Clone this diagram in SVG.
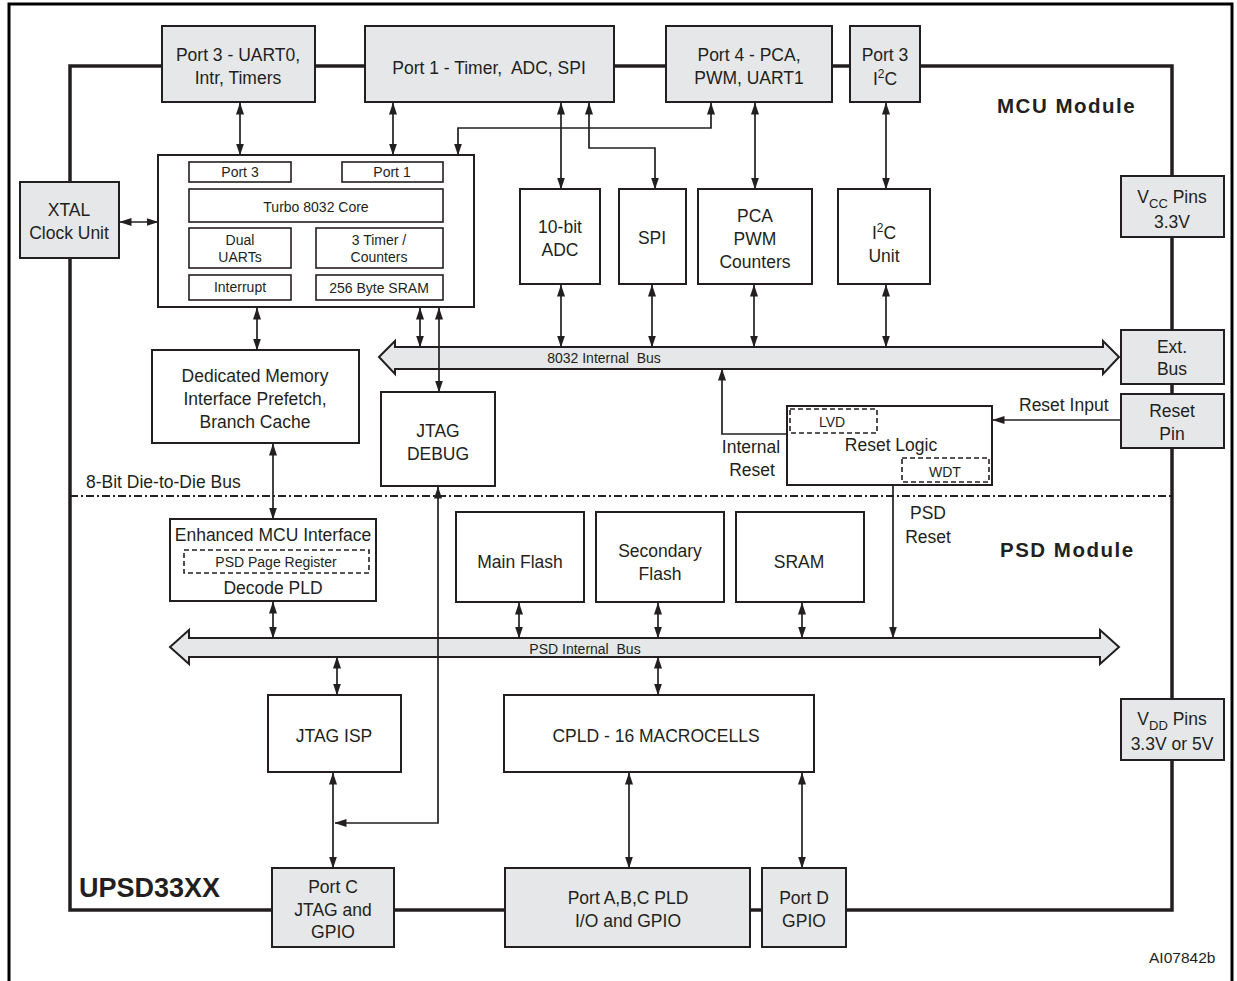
<svg xmlns="http://www.w3.org/2000/svg" width="1237" height="981" viewBox="0 0 1237 981">
<style>
text{font-family:"Liberation Sans",Arial,sans-serif;fill:#231f20}
.t{font-size:17.5px;text-anchor:middle}
.s{font-size:14px;text-anchor:middle}
.box{fill:#fff;stroke:#231f20;stroke-width:2}
.pin{fill:#e6e7e8;stroke:#231f20;stroke-width:2}
.sub{fill:#fff;stroke:#231f20;stroke-width:1.6}
.dash{fill:none;stroke:#231f20;stroke-width:1.6;stroke-dasharray:5 3}
.bus{fill:#e6e7e8;stroke:#231f20;stroke-width:2}
.c{fill:none;stroke:#231f20;stroke-width:1.7}
.d{marker-start:url(#ah);marker-end:url(#ah)}
.e{marker-end:url(#ah)}
.m{font-size:20.5px;font-weight:bold;letter-spacing:1.5px}
</style>
<defs>
<marker id="ah" markerUnits="userSpaceOnUse" markerWidth="12" markerHeight="8" refX="11.5" refY="4" orient="auto-start-reverse">
<path d="M0,0 L12,4 L0,8 z" fill="#231f20"/>
</marker>
</defs>
<rect width="1237" height="981" fill="#fff"/>
<g id="frame">
<rect x="9" y="4" width="1223" height="990" fill="none" stroke="#000" stroke-width="3"/>
<rect x="70" y="66" width="1102" height="844" fill="none" stroke="#231f20" stroke-width="3.5"/>
<line x1="70" y1="496" x2="1172" y2="496" stroke="#231f20" stroke-width="1.8" stroke-dasharray="8 3 2 3"/>
<text x="79" y="897" style="font-size:27px;font-weight:bold">UPSD33XX</text>
<text class="m" x="997" y="113">MCU Module</text>
<text class="m" x="1000" y="557">PSD Module</text>
<text x="86" y="488" style="font-size:17.5px">8-Bit Die-to-Die Bus</text>
<text x="1149" y="963" style="font-size:15.5px">AI07842b</text>
</g>
<g id="bus8032">
<path class="bus" d="M379,357 L395,341 L395,347 L1103,347 L1103,341 L1119,357 L1103,374 L1103,369 L395,369 L395,374 Z"/>
<text class="s" x="604" y="363" xml:space="preserve">8032 Internal  Bus</text>
</g>
<g id="busPSD">
<path class="bus" d="M170,647 L189,630 L189,638 L1100,638 L1100,630 L1119,647 L1100,664 L1100,657 L189,657 L189,664 Z"/>
<text class="s" x="585" y="654" xml:space="preserve">PSD Internal  Bus</text>
</g>
<g id="port3uart">
<rect class="pin" x="162" y="26" width="153" height="76"/>
<text class="t" x="238" y="61">Port 3 - UART0,</text>
<text class="t" x="238" y="84">Intr, Timers</text>
</g>
<g id="port1">
<rect class="pin" x="365" y="26" width="249" height="76"/>
<text class="t" x="489" y="74" xml:space="preserve">Port 1 - Timer,  ADC, SPI</text>
</g>
<g id="port4">
<rect class="pin" x="666" y="26" width="166" height="76"/>
<text class="t" x="749" y="61">Port 4 - PCA,</text>
<text class="t" x="749" y="84">PWM, UART1</text>
</g>
<g id="port3i2c">
<rect class="pin" x="850" y="26" width="70" height="76"/>
<text class="t" x="885" y="61">Port 3</text>
<text class="t" x="885" y="85">I<tspan dy="-7" style="font-size:12px">2</tspan><tspan dy="7">C</tspan></text>
</g>
<g id="xtal">
<rect class="pin" x="20" y="182" width="99" height="76"/>
<text class="t" x="69" y="216">XTAL</text>
<text class="t" x="69" y="239">Clock Unit</text>
</g>
<g id="core">
<rect class="box" x="158" y="155" width="316" height="152"/>
<rect class="sub" x="189" y="162" width="102" height="20"/>
<text class="s" x="240" y="177">Port 3</text>
<rect class="sub" x="342" y="162" width="101" height="20"/>
<text class="s" x="392" y="177">Port 1</text>
<rect class="sub" x="189" y="189" width="254" height="33"/>
<text class="s" x="316" y="212">Turbo 8032 Core</text>
<rect class="sub" x="189" y="228" width="102" height="40"/>
<text class="s" x="240" y="245">Dual</text>
<text class="s" x="240" y="262">UARTs</text>
<rect class="sub" x="316" y="228" width="127" height="40"/>
<text class="s" x="379" y="245">3 Timer /</text>
<text class="s" x="379" y="262">Counters</text>
<rect class="sub" x="189" y="275" width="102" height="25"/>
<text class="s" x="240" y="292">Interrupt</text>
<rect class="sub" x="316" y="275" width="127" height="25"/>
<text class="s" x="379" y="293">256 Byte SRAM</text>
</g>
<g id="adc">
<rect class="box" x="520" y="189" width="80" height="95"/>
<text class="t" x="560" y="233">10-bit</text>
<text class="t" x="560" y="256">ADC</text>
</g>
<g id="spi">
<rect class="box" x="619" y="189" width="67" height="95"/>
<text class="t" x="652" y="244">SPI</text>
</g>
<g id="pca">
<rect class="box" x="698" y="189" width="114" height="95"/>
<text class="t" x="755" y="222">PCA</text>
<text class="t" x="755" y="245">PWM</text>
<text class="t" x="755" y="268">Counters</text>
</g>
<g id="i2c">
<rect class="box" x="838" y="189" width="92" height="95"/>
<text class="t" x="884" y="239">I<tspan dy="-7" style="font-size:12px">2</tspan><tspan dy="7">C</tspan></text>
<text class="t" x="884" y="262">Unit</text>
</g>
<g id="vcc">
<rect class="pin" x="1121" y="176" width="103" height="61"/>
<text class="t" x="1172" y="203">V<tspan dy="5" style="font-size:13px">CC</tspan><tspan dy="-5"> Pins</tspan></text>
<text class="t" x="1172" y="228">3.3V</text>
</g>
<g id="extbus">
<rect class="pin" x="1121" y="330" width="103" height="54"/>
<text class="t" x="1172" y="353">Ext.</text>
<text class="t" x="1172" y="375">Bus</text>
</g>
<g id="resetpin">
<rect class="pin" x="1121" y="394" width="103" height="54"/>
<text class="t" x="1172" y="417">Reset</text>
<text class="t" x="1172" y="440">Pin</text>
</g>
<g id="dedmem">
<rect class="box" x="152" y="350" width="207" height="93"/>
<text class="t" x="255" y="382">Dedicated Memory</text>
<text class="t" x="255" y="405">Interface Prefetch,</text>
<text class="t" x="255" y="428">Branch Cache</text>
</g>
<g id="jtagdebug">
<rect class="box" x="381" y="392" width="114" height="94"/>
<text class="t" x="438" y="437">JTAG</text>
<text class="t" x="438" y="460">DEBUG</text>
</g>
<g id="resetlogic">
<rect class="box" x="787" y="406" width="205" height="79"/>
<rect class="dash" x="790" y="409" width="87" height="24"/>
<text class="s" x="832" y="427">LVD</text>
<text class="t" x="891" y="451">Reset Logic</text>
<rect class="dash" x="902" y="458" width="87" height="24"/>
<text class="s" x="945" y="477">WDT</text>
</g>
<g id="emcu">
<rect class="box" x="170" y="519" width="206" height="82"/>
<text class="t" x="273" y="541">Enhanced MCU Interface</text>
<rect class="dash" x="184" y="550" width="185" height="23"/>
<text class="s" x="276" y="567">PSD Page Register</text>
<text class="t" x="273" y="594">Decode PLD</text>
</g>
<g id="mainflash">
<rect class="box" x="456" y="512" width="128" height="90"/>
<text class="t" x="520" y="568">Main Flash</text>
</g>
<g id="secflash">
<rect class="box" x="596" y="512" width="128" height="90"/>
<text class="t" x="660" y="557">Secondary</text>
<text class="t" x="660" y="580">Flash</text>
</g>
<g id="sram">
<rect class="box" x="736" y="512" width="128" height="90"/>
<text class="t" x="799" y="568">SRAM</text>
</g>
<g id="jtagisp">
<rect class="box" x="268" y="695" width="133" height="77"/>
<text class="t" x="334" y="742">JTAG ISP</text>
</g>
<g id="cpld">
<rect class="box" x="504" y="695" width="310" height="77"/>
<text class="t" x="656" y="742">CPLD - 16 MACROCELLS</text>
</g>
<g id="vdd">
<rect class="pin" x="1121" y="699" width="103" height="61"/>
<text class="t" x="1172" y="725">V<tspan dy="5" style="font-size:13px">DD</tspan><tspan dy="-5"> Pins</tspan></text>
<text class="t" x="1172" y="750">3.3V or 5V</text>
</g>
<g id="portc">
<rect class="pin" x="272" y="868" width="122" height="79"/>
<text class="t" x="333" y="893">Port C</text>
<text class="t" x="333" y="916">JTAG and</text>
<text class="t" x="333" y="938">GPIO</text>
</g>
<g id="portabc">
<rect class="pin" x="505" y="868" width="245" height="79"/>
<text class="t" x="628" y="904">Port A,B,C PLD</text>
<text class="t" x="628" y="927">I/O and GPIO</text>
</g>
<g id="portd">
<rect class="pin" x="762" y="868" width="84" height="79"/>
<text class="t" x="804" y="904">Port D</text>
<text class="t" x="804" y="927">GPIO</text>
</g>
<g id="connectors">
<path class="c d" d="M240,103 V155"/>
<path class="c d" d="M393,103 V155"/>
<path class="c d" d="M711,103 V128 H458 V155"/>
<path class="c d" d="M561,103 V189"/>
<path class="c d" d="M589,103 V148 H655 V189"/>
<path class="c d" d="M755,103 V189"/>
<path class="c d" d="M886,103 V189"/>
<path class="c d" d="M120,222 H158"/>
<path class="c d" d="M257,308 V350"/>
<path class="c d" d="M420,308 V347"/>
<path class="c d" d="M439,308 V392"/>
<path class="c d" d="M561,285 V347"/>
<path class="c d" d="M652,285 V347"/>
<path class="c d" d="M754,285 V347"/>
<path class="c d" d="M886,285 V347"/>
<path class="c e" d="M787,434 H722 V369"/>
<path class="c e" d="M1121,420 H993"/>
<text x="1019" y="411" style="font-size:17.5px">Reset Input</text>
<text class="t" x="751" y="453">Internal</text>
<text class="t" x="752" y="476">Reset</text>
<path class="c d" d="M273,444 V519"/>
<path class="c d" d="M273,602 V638"/>
<path class="c d" d="M519,603 V638"/>
<path class="c d" d="M658,603 V638"/>
<path class="c d" d="M802,603 V638"/>
<path class="c e" d="M893,485 V638"/>
<text class="t" x="928" y="519">PSD</text>
<text class="t" x="928" y="543">Reset</text>
<path class="c d" d="M337,657 V695"/>
<path class="c d" d="M658,657 V695"/>
<path class="c d" d="M333,773 V868"/>
<path class="c d" d="M438,487 V823 H335"/>
<path class="c d" d="M629,773 V868"/>
<path class="c d" d="M802,773 V868"/>
</g>
</svg>
